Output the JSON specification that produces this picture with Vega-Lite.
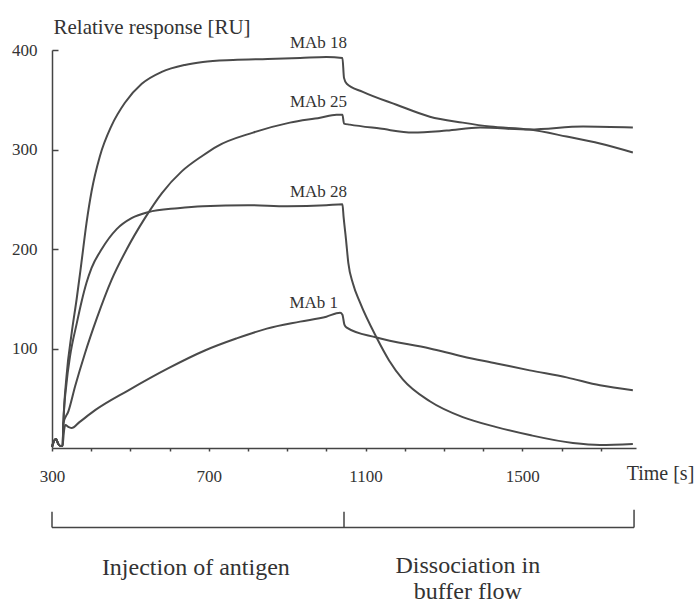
{
  "$schema": "https://vega.github.io/schema/vega-lite/v6.json",
  "width": 584,
  "height": 398,
  "autosize": {"type": "none"},
  "padding": {"left": 52, "top": 50, "right": 64, "bottom": 155},
  "background": "white",
  "config": {"view": {"stroke": null}, "font": "Liberation Serif"},
  "datasets": {
    "curves": [
      {"s":"MAb 18","t":300,"v":1},{"s":"MAb 18","t":305,"v":7},{"s":"MAb 18","t":310,"v":9},{"s":"MAb 18","t":316,"v":4},{"s":"MAb 18","t":322,"v":2},{"s":"MAb 18","t":327,"v":2},{"s":"MAb 18","t":329,"v":25},{"s":"MAb 18","t":337,"v":72},{"s":"MAb 18","t":350,"v":115},{"s":"MAb 18","t":363,"v":150},{"s":"MAb 18","t":375,"v":186},{"s":"MAb 18","t":388,"v":226},{"s":"MAb 18","t":401,"v":258},{"s":"MAb 18","t":422,"v":293},{"s":"MAb 18","t":452,"v":324},{"s":"MAb 18","t":486,"v":347},{"s":"MAb 18","t":529,"v":366},{"s":"MAb 18","t":580,"v":378},{"s":"MAb 18","t":639,"v":385},{"s":"MAb 18","t":685,"v":388},{"s":"MAb 18","t":762,"v":390},{"s":"MAb 18","t":850,"v":391},{"s":"MAb 18","t":933,"v":392},{"s":"MAb 18","t":1000,"v":393},{"s":"MAb 18","t":1041,"v":392},{"s":"MAb 18","t":1045,"v":372},{"s":"MAb 18","t":1052,"v":366},{"s":"MAb 18","t":1093,"v":358},{"s":"MAb 18","t":1179,"v":345},{"s":"MAb 18","t":1264,"v":333},{"s":"MAb 18","t":1348,"v":327},{"s":"MAb 18","t":1417,"v":323},{"s":"MAb 18","t":1519,"v":320},{"s":"MAb 18","t":1613,"v":313},{"s":"MAb 18","t":1698,"v":306},{"s":"MAb 18","t":1782,"v":297},
      {"s":"MAb 25","t":300,"v":1},{"s":"MAb 25","t":305,"v":7},{"s":"MAb 25","t":310,"v":9},{"s":"MAb 25","t":316,"v":4},{"s":"MAb 25","t":322,"v":2},{"s":"MAb 25","t":327,"v":2},{"s":"MAb 25","t":329,"v":25},{"s":"MAb 25","t":342,"v":37},{"s":"MAb 25","t":359,"v":62},{"s":"MAb 25","t":384,"v":95},{"s":"MAb 25","t":414,"v":130},{"s":"MAb 25","t":452,"v":169},{"s":"MAb 25","t":491,"v":200},{"s":"MAb 25","t":537,"v":231},{"s":"MAb 25","t":580,"v":256},{"s":"MAb 25","t":631,"v":278},{"s":"MAb 25","t":685,"v":294},{"s":"MAb 25","t":720,"v":303},{"s":"MAb 25","t":813,"v":317},{"s":"MAb 25","t":907,"v":327},{"s":"MAb 25","t":984,"v":332},{"s":"MAb 25","t":1026,"v":335},{"s":"MAb 25","t":1041,"v":335},{"s":"MAb 25","t":1045,"v":326},{"s":"MAb 25","t":1060,"v":325},{"s":"MAb 25","t":1137,"v":321},{"s":"MAb 25","t":1221,"v":317},{"s":"MAb 25","t":1307,"v":319},{"s":"MAb 25","t":1392,"v":322},{"s":"MAb 25","t":1519,"v":320},{"s":"MAb 25","t":1655,"v":323},{"s":"MAb 25","t":1782,"v":322},
      {"s":"MAb 28","t":300,"v":1},{"s":"MAb 28","t":305,"v":7},{"s":"MAb 28","t":310,"v":9},{"s":"MAb 28","t":316,"v":4},{"s":"MAb 28","t":322,"v":2},{"s":"MAb 28","t":327,"v":2},{"s":"MAb 28","t":329,"v":25},{"s":"MAb 28","t":337,"v":65},{"s":"MAb 28","t":346,"v":92},{"s":"MAb 28","t":363,"v":125},{"s":"MAb 28","t":376,"v":148},{"s":"MAb 28","t":388,"v":166},{"s":"MAb 28","t":401,"v":181},{"s":"MAb 28","t":427,"v":200},{"s":"MAb 28","t":465,"v":220},{"s":"MAb 28","t":503,"v":231},{"s":"MAb 28","t":545,"v":237},{"s":"MAb 28","t":621,"v":241},{"s":"MAb 28","t":685,"v":243},{"s":"MAb 28","t":800,"v":244},{"s":"MAb 28","t":900,"v":243},{"s":"MAb 28","t":1000,"v":244},{"s":"MAb 28","t":1041,"v":245},{"s":"MAb 28","t":1044,"v":232},{"s":"MAb 28","t":1050,"v":210},{"s":"MAb 28","t":1056,"v":186},{"s":"MAb 28","t":1068,"v":165},{"s":"MAb 28","t":1086,"v":146},{"s":"MAb 28","t":1128,"v":111},{"s":"MAb 28","t":1160,"v":88},{"s":"MAb 28","t":1195,"v":69},{"s":"MAb 28","t":1264,"v":47},{"s":"MAb 28","t":1348,"v":31},{"s":"MAb 28","t":1434,"v":21},{"s":"MAb 28","t":1519,"v":13},{"s":"MAb 28","t":1629,"v":5},{"s":"MAb 28","t":1698,"v":3},{"s":"MAb 28","t":1782,"v":4},
      {"s":"MAb 1","t":300,"v":1},{"s":"MAb 1","t":305,"v":7},{"s":"MAb 1","t":310,"v":9},{"s":"MAb 1","t":316,"v":4},{"s":"MAb 1","t":322,"v":2},{"s":"MAb 1","t":327,"v":2},{"s":"MAb 1","t":330,"v":15},{"s":"MAb 1","t":334,"v":23},{"s":"MAb 1","t":343,"v":21},{"s":"MAb 1","t":350,"v":20},{"s":"MAb 1","t":370,"v":26},{"s":"MAb 1","t":410,"v":38},{"s":"MAb 1","t":495,"v":58},{"s":"MAb 1","t":596,"v":80},{"s":"MAb 1","t":690,"v":98},{"s":"MAb 1","t":770,"v":110},{"s":"MAb 1","t":848,"v":120},{"s":"MAb 1","t":933,"v":127},{"s":"MAb 1","t":1000,"v":132},{"s":"MAb 1","t":1035,"v":136},{"s":"MAb 1","t":1041,"v":134},{"s":"MAb 1","t":1046,"v":124},{"s":"MAb 1","t":1052,"v":121},{"s":"MAb 1","t":1128,"v":111},{"s":"MAb 1","t":1264,"v":100},{"s":"MAb 1","t":1348,"v":92},{"s":"MAb 1","t":1434,"v":85},{"s":"MAb 1","t":1519,"v":78},{"s":"MAb 1","t":1613,"v":71},{"s":"MAb 1","t":1698,"v":63},{"s":"MAb 1","t":1782,"v":58}
    ],
    "labels": [
      {"label":"MAb 18","t":1053,"v":402},
      {"label":"MAb 25","t":1053,"v":343},
      {"label":"MAb 28","t":1053,"v":252},
      {"label":"MAb 1","t":1030,"v":141}
    ],
    "bracket": [
      {"t":300,"t2":1785,"v":-80,"v2":-80},
      {"t":300,"t2":300,"v":-64,"v2":-80},
      {"t":1045,"t2":1045,"v":-64,"v2":-80},
      {"t":1785,"t2":1785,"v":-62,"v2":-80}
    ],
    "notes": [
      {"text":"Injection of antigen","t":667,"v":-127.6},
      {"text":"Dissociation in\nbuffer flow","t":1361,"v":-125.6}
    ]
  },
  "layer": [
    {
      "data": {"name": "curves"},
      "mark": {"type": "line", "color": "#4a4a4a", "strokeWidth": 2, "interpolate": "monotone"},
      "encoding": {
        "x": {
          "field": "t", "type": "quantitative",
          "scale": {"domain": [300, 1790], "nice": false, "zero": false},
          "axis": {
            "values": [300,400,500,600,700,800,900,1000,1100,1200,1300,1400,1500,1600,1700],
            "format": "d",
            "labelExpr": "datum.value % 400 == 300 ? datum.label : ''",
            "labelOverlap": false,
            "labelFlush": false,
            "labelFont": "Liberation Serif",
            "labelFontSize": 17,
            "labelColor": "#333",
            "labelBaseline": "top",
            "labelPadding": 17,
            "tickSize": 3,
            "tickColor": "#444",
            "tickWidth": 1.5,
            "domainColor": "#444",
            "domainWidth": 1.5,
            "grid": false,
            "title": "Time [s]",
            "titleFont": "Liberation Serif",
            "titleFontSize": 20,
            "titleFontWeight": "normal",
            "titleColor": "#333",
            "titleX": 608,
            "titleY": 31,
            "titleAlign": "center",
            "titleBaseline": "alphabetic"
          }
        },
        "y": {
          "field": "v", "type": "quantitative",
          "scale": {"domain": [0, 400], "nice": false},
          "axis": {
            "values": [100, 200, 300, 400],
            "format": "d",
            "labelFont": "Liberation Serif",
            "labelFontSize": 17,
            "labelColor": "#333",
            "labelPadding": 21,
            "tickSize": -6,
            "tickColor": "#444",
            "tickWidth": 1.5,
            "domainColor": "#444",
            "domainWidth": 1.5,
            "grid": false,
            "title": "Relative response [RU]",
            "titleFont": "Liberation Serif",
            "titleFontSize": 21,
            "titleFontWeight": "normal",
            "titleColor": "#333",
            "titleAngle": 0,
            "titleAlign": "left",
            "titleBaseline": "alphabetic",
            "titleX": 1,
            "titleY": -17
          }
        },
        "detail": {"field": "s"}
      }
    },
    {
      "data": {"name": "labels"},
      "mark": {"type": "text", "align": "right", "baseline": "alphabetic", "font": "Liberation Serif", "fontSize": 17, "color": "#333"},
      "encoding": {
        "x": {"field": "t", "type": "quantitative"},
        "y": {"field": "v", "type": "quantitative"},
        "text": {"field": "label"}
      }
    },
    {
      "data": {"name": "bracket"},
      "mark": {"type": "rule", "color": "#444", "strokeWidth": 1.5},
      "encoding": {
        "x": {"field": "t", "type": "quantitative"},
        "x2": {"field": "t2"},
        "y": {"field": "v", "type": "quantitative"},
        "y2": {"field": "v2"}
      }
    },
    {
      "data": {"name": "notes"},
      "mark": {"type": "text", "align": "center", "baseline": "alphabetic", "font": "Liberation Serif", "fontSize": 24, "lineHeight": 26, "lineBreak": "\n", "color": "#333"},
      "encoding": {
        "x": {"field": "t", "type": "quantitative"},
        "y": {"field": "v", "type": "quantitative"},
        "text": {"field": "text"}
      }
    }
  ]
}
